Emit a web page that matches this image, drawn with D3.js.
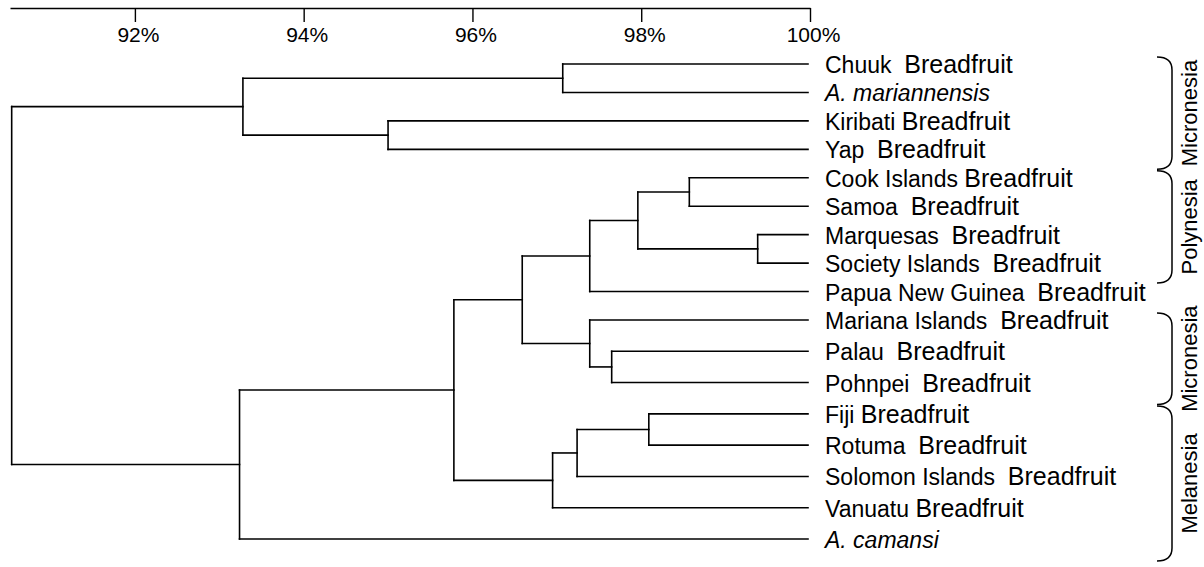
<!DOCTYPE html>
<html>
<head>
<meta charset="utf-8">
<script src="https://cdn.jsdelivr.net/npm/d3@7"></script>
<style>
  html, body { margin: 0; padding: 0; background: #fff; }
  svg { display: block; font-family: "Liberation Sans", Arial, Helvetica, sans-serif; }
</style>
</head>
<body>
<svg id="chart" width="1204" height="567"></svg>
<script>
// ---- data ----
const leafLabels = [
  "Chuuk  Breadfruit", "A. mariannensis", "Kiribati Breadfruit", "Yap  Breadfruit",
  "Cook Islands Breadfruit", "Samoa  Breadfruit", "Marquesas  Breadfruit",
  "Society Islands  Breadfruit", "Papua New Guinea  Breadfruit",
  "Mariana Islands  Breadfruit", "Palau  Breadfruit", "Pohnpei  Breadfruit",
  "Fiji Breadfruit", "Rotuma  Breadfruit", "Solomon Islands  Breadfruit",
  "Vanuatu Breadfruit", "A. camansi"
];
// merges: [childA, childB, similarity %]; ids >= 17 refer to earlier merges
const merges = [
  [0, 1, 97.07],   // 17
  [2, 3, 95.00],   // 18
  [17, 18, 93.28], // 19
  [4, 5, 98.57],   // 20
  [6, 7, 99.38],   // 21
  [20, 21, 97.96], // 22
  [22, 8, 97.39],  // 23
  [10, 11, 97.65], // 24
  [9, 24, 97.39],  // 25
  [23, 25, 96.59], // 26
  [12, 13, 98.09], // 27
  [27, 14, 97.24], // 28
  [28, 15, 96.95], // 29
  [26, 29, 95.78], // 30
  [30, 16, 93.24], // 31
  [19, 31, 90.54]  // 32 root
];
const tickValues = [92, 94, 96, 98, 100];
const tickLabels = ["92%", "94%", "96%", "98%", "100%"];
const groupNames = ["Micronesia", "Polynesia", "Micronesia", "Melanesia"];
const groupFirst = [0, 4, 9, 12];
const groupLast = [3, 7, 11, 16];

// ---- layout ----
const svg = d3.select("#chart");
const x = d3.scaleLinear().domain([90.52, 100]).range([10, 810]);
const y = d3.scaleLinear().domain([0, 9, 16]).range([64, 320, 539]);

// axis
const axis = d3.axisBottom(x)
  .tickValues(tickValues)
  .tickFormat((d, i) => tickLabels[i])
  .tickSize(14)
  .tickSizeOuter(0)
  .tickPadding(5);
const gAxis = svg.append("g").attr("transform", "translate(0,8)").call(axis);
gAxis.select(".domain").attr("stroke", "#000").attr("stroke-width", 1.6);
gAxis.selectAll(".tick line").attr("stroke", "#000").attr("stroke-width", 1.4);
gAxis.selectAll(".tick text")
  .attr("fill", "#000")
  .attr("font-size", 21)
  .attr("dx", 3)
  .style("font-family", "'Liberation Sans', Arial, sans-serif");

// build nodes
const nodes = [];
leafLabels.forEach((l, i) => nodes.push({ id: i, leaf: true, sim: 100, y: y(i) }));
merges.forEach((m, k) => {
  const a = nodes[m[0]], b = nodes[m[1]];
  nodes.push({ id: leafLabels.length + k, leaf: false, sim: m[2], kids: [a, b], y: (a.y + b.y) / 2 });
});

const gTree = svg.append("g")
  .attr("stroke", "#000")
  .attr("stroke-width", 1.6)
  .attr("fill", "none")
  .attr("stroke-linecap", "square");

nodes.filter(n => !n.leaf).forEach(n => {
  const nx = x(n.sim);
  const ys = n.kids.map(c => c.y);
  gTree.append("line")
    .attr("x1", nx).attr("x2", nx)
    .attr("y1", d3.min(ys)).attr("y2", d3.max(ys));
  n.kids.forEach(c => {
    gTree.append("line")
      .attr("x1", nx).attr("x2", c.leaf ? x(100) - 2 : x(c.sim))
      .attr("y1", c.y).attr("y2", c.y);
  });
});

// leaf labels
const gLab = svg.append("g");
leafLabels.forEach((l, i) => {
  const t = gLab.append("text")
    .attr("x", x(100) + 15)
    .attr("y", y(i) + 9)
    .attr("fill", "#000")
    .style("white-space", "pre");
  if (l.startsWith("A. ")) {
    t.attr("font-size", 23).attr("font-style", "italic").text(l);
  } else {
    const k = l.lastIndexOf("Breadfruit");
    t.append("tspan").attr("font-size", 23).text(l.slice(0, k));
    t.append("tspan").attr("font-size", 25).text(l.slice(k));
  }
});

// group brackets
const gBr = svg.append("g");
groupNames.forEach((g, i) => {
  const top = y(groupFirst[i] - 0.25);
  const bot = y(groupLast[i] + 0.7);
  const x0 = 1157, x1 = 1172, r = 13;
  const p = d3.path();
  p.moveTo(x0, top);
  p.quadraticCurveTo(x1, top, x1, top + r);
  p.lineTo(x1, bot - r);
  p.quadraticCurveTo(x1, bot, x0, bot);
  gBr.append("path").attr("d", p.toString())
    .attr("fill", "none").attr("stroke", "#000").attr("stroke-width", 1.5);
  const cy = (top + bot) / 2;
  gBr.append("text")
    .attr("transform", `translate(1197,${cy}) rotate(-90)`)
    .attr("text-anchor", "middle")
    .attr("font-size", 22)
    .attr("fill", "#000")
    .text(g);
});
</script>
</body>
</html>
